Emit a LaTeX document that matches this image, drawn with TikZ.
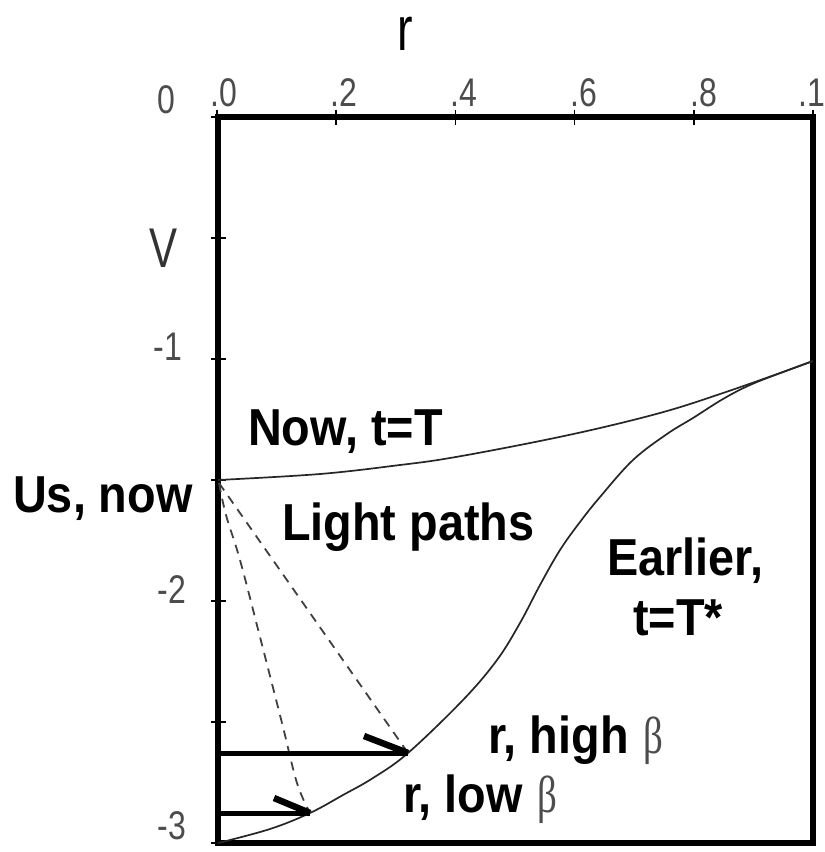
\documentclass[tikz,border=0pt]{standalone}
\usepackage{fontspec}
\setmainfont{Liberation Sans}
\newfontfamily\betafont{Liberation Serif}
\newcommand\sqz[2]{\scalebox{#1}[1]{#2}}
\newcommand\betaglyph{{\fontseries{m}\betafont\color{black!70}\sqz{0.75}{β}}}
\tikzset{
  frame/.style={line width=5.5pt},
  tickmark/.style={line width=1.5pt},
  ticklab/.style={font=\fontsize{40}{44}\selectfont, text=black!70, inner sep=0pt},
  axlab/.style={inner sep=0pt, text=black!80},
  lab/.style={font=\fontsize{52}{60}\selectfont\bfseries, inner sep=0pt, anchor=base west},
  curve/.style={line width=1.7pt, draw=black!85},
  lightpath/.style={line width=1.8pt, draw=black!75, dash pattern=on 9pt off 7pt},
  ray/.style={line width=5pt},
  harpoon/.style={line width=6.5pt}
}
\begin{document}
\begin{tikzpicture}[x=1pt,y=-1pt]
\fill[white] (0,0) rectangle (825,852);
\useasboundingbox (0,0) rectangle (825,852);
% frame
\coordinate (tl) at (218,117);
\coordinate (br) at (813,843);
\draw[frame] (tl) rectangle (br);
% ticks
\foreach \i in {0,...,5} \draw[tickmark] ({217+119.2*\i},110) -- ++(0,15);
\foreach \v in {0,...,6} \draw[tickmark] (211,{117+121*\v}) -- ++(15,0);
% tick labels top
\node[ticklab] (t0) at (224,93) {\sqz{0.8}{.0}};
\node[ticklab] (t2) at (344,93) {\sqz{0.8}{.2}};
\node[ticklab] (t4) at (464,93) {\sqz{0.8}{.4}};
\node[ticklab] (t6) at (584,93) {\sqz{0.8}{.6}};
\node[ticklab] (t8) at (704,93) {\sqz{0.8}{.8}};
\node[ticklab, anchor=east] (t10) at (825,93) {\sqz{0.8}{.1}};
% tick labels left
\node[ticklab] (v0) at (166,100) {\sqz{0.8}{0}};
\node[ticklab] (v1) at (168,347) {\sqz{0.8}{-1}};
\node[ticklab] (v2) at (172,590) {\sqz{0.8}{-2}};
\node[ticklab] (v3) at (172,826) {\sqz{0.8}{-3}};
% axis names
\node[axlab, font=\fontsize{56}{60}\selectfont] (vname) at (164,248) {\sqz{0.75}{V}};
\node[axlab, font=\fontsize{62}{66}\selectfont, text=black, anchor=base] (rname) at (405,50) {\sqz{0.75}{r}};
% key points
\coordinate (us) at (218,480);
\coordinate (far) at (813,361);
\coordinate (origin) at (218,843);
\coordinate (tiphigh) at (408,753);
\coordinate (tiplow) at (310,813);
\coordinate (starthigh) at (218,753);
\coordinate (startlow) at (218,813);
\coordinate (barbhigh) at (364,736);
\coordinate (barblow) at (274,798);
\coordinate (lightsrc) at (219,483);
% now curve
\draw[curve] plot[smooth, tension=0.6] coordinates {(us) (320,474) (400,465) (450,458) (530,443) (600,428) (667,411) (723,393) (783,372) (far)};
% earlier curve
\draw[curve] plot[smooth, tension=0.6] coordinates {(origin) (270,829) (tiplow) (343,795) (373,778) (tiphigh) (463,700) (497,660) (520,623) (540,585) (560,550) (580,522) (600,497) (633,460) (667,434) (693,418) (723,399) (750,385) (783,372) (far)};
% light paths
\draw[lightpath] (lightsrc) -- (tiphigh);
\draw[lightpath] plot[smooth, tension=0.6] coordinates {(lightsrc) (226,515) (240,560) (260,637) (282,723) (297,783) (tiplow)};
% arrows
\draw[ray] (starthigh) -- (tiphigh);
\draw[harpoon] (barbhigh) -- (tiphigh);
\draw[ray] (startlow) -- (tiplow);
\draw[harpoon] (barblow) -- (tiplow);
% labels
\node[lab] (now) at (248,445) {\sqz{0.9}{Now, t=T}};
\node[lab] (usnow) at (13,512) {\sqz{0.9}{Us, now}};
\node[lab] (light) at (282,540) {\sqz{0.9}{Light paths}};
\node[lab] (earlier) at (607,575) {\sqz{0.9}{Earlier,}};
\node[lab] (tstar) at (633,635) {\sqz{0.9}{t=T*}};
\node[lab] (high) at (488,753) {\sqz{0.9}{r, high} \betaglyph};
\node[lab] (low) at (403,812) {\sqz{0.9}{r, low} \betaglyph};
\end{tikzpicture}
\end{document}
